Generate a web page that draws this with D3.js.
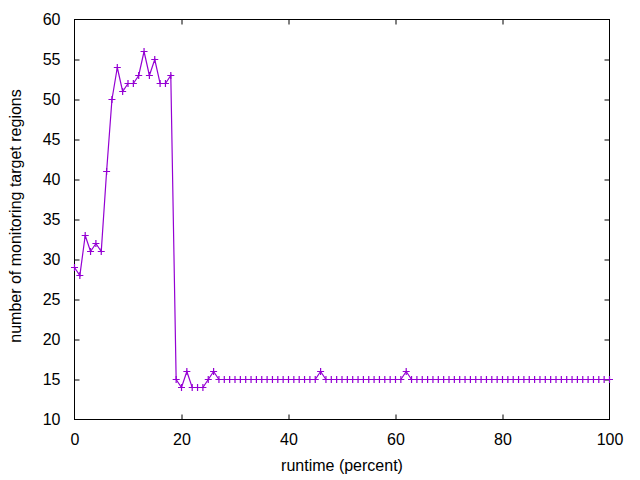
<!DOCTYPE html>
<html>
<head>
<meta charset="utf-8">
<script src="https://cdn.jsdelivr.net/npm/d3@7"></script>
<style>
  html, body { margin: 0; padding: 0; background: #fff; }
  svg { display: block; }
  text { font-family: "Liberation Sans", Arial, sans-serif; font-size: 16px; fill: #000; }
</style>
</head>
<body>
<svg id="chart" width="640" height="480"></svg>
<script>
// Data
const runtimePercent = d3.range(0, 101);
const regionValues = [
  29, 28, 33, 31, 32, 31, 41, 50, 54, 51,
  52, 52, 53, 56, 53, 55, 52, 52, 53, 15,
  14, 16, 14, 14, 14, 15, 16, 15, 15, 15,
  15, 15, 15, 15, 15, 15, 15, 15, 15, 15,
  15, 15, 15, 15, 15, 15, 16, 15, 15, 15,
  15, 15, 15, 15, 15, 15, 15, 15, 15, 15,
  15, 15, 16, 15, 15, 15, 15, 15, 15, 15,
  15, 15, 15, 15, 15, 15, 15, 15, 15, 15,
  15, 15, 15, 15, 15, 15, 15, 15, 15, 15,
  15, 15, 15, 15, 15, 15, 15, 15, 15, 15,
  15
];
const xTicks = [0, 20, 40, 60, 80, 100];
const yTicks = [10, 15, 20, 25, 30, 35, 40, 45, 50, 55, 60];
const xLabel = "runtime (percent)";
const yLabel = "number of monitoring target regions";

(function () {
const data = runtimePercent.map((x, i) => ({ x, y: regionValues[i] }));

const mLeft = 74.5, mRight = 609.5, mTop = 19.5, mBottom = 419.5;
const color = "#9400d3";

const svg = d3.select("#chart");
const x = d3.scaleLinear().domain([0, 100]).range([mLeft, mRight]);
const y = d3.scaleLinear().domain([10, 60]).range([mBottom, mTop]);

const tickLen = 5;

const gx = svg.append("g").attr("transform", `translate(0,${mBottom})`)
  .call(d3.axisBottom(x).tickValues(xTicks).tickSizeInner(-tickLen).tickSizeOuter(0).tickPadding(14));
const gxTop = svg.append("g").attr("transform", `translate(0,${mTop})`)
  .call(d3.axisTop(x).tickValues(xTicks).tickSizeInner(-tickLen).tickSizeOuter(0).tickFormat(""));
const gy = svg.append("g").attr("transform", `translate(${mLeft},0)`)
  .call(d3.axisLeft(y).tickValues(yTicks).tickSizeInner(-tickLen).tickSizeOuter(0).tickPadding(14));
const gyRight = svg.append("g").attr("transform", `translate(${mRight},0)`)
  .call(d3.axisRight(y).tickValues(yTicks).tickSizeInner(-tickLen).tickSizeOuter(0).tickFormat(""));

[gx, gxTop, gy, gyRight].forEach(g => {
  g.select(".domain").remove();
  g.selectAll(".tick line").attr("stroke", "#000").attr("stroke-width", 1);
  g.selectAll("text").attr("font-family", "Liberation Sans, Arial, sans-serif").attr("font-size", "16px").attr("fill", "#000");
});
gx.selectAll(".tick").filter(d => d === 0 || d === 100).select("line").remove();
gxTop.selectAll(".tick").filter(d => d === 0 || d === 100).select("line").remove();
gy.selectAll(".tick").filter(d => d === 10 || d === 60).select("line").remove();
gyRight.selectAll(".tick").filter(d => d === 10 || d === 60).select("line").remove();

svg.append("rect")
  .attr("x", mLeft).attr("y", mTop)
  .attr("width", mRight - mLeft).attr("height", mBottom - mTop)
  .attr("fill", "none").attr("stroke", "#000").attr("stroke-width", 1);

const line = d3.line().x(d => x(d.x)).y(d => y(d.y));
svg.append("path").datum(data)
  .attr("d", line).attr("fill", "none")
  .attr("stroke", color).attr("stroke-width", 1.2);

const ps = 3.5;
svg.append("g").selectAll("path.pt").data(data).join("path")
  .attr("class", "pt")
  .attr("d", d => {
    const cx = x(d.x), cy = y(d.y);
    return `M${cx - ps},${cy}H${cx + ps}M${cx},${cy - ps}V${cy + ps}`;
  })
  .attr("stroke", color).attr("stroke-width", 1.2).attr("fill", "none");

svg.append("text")
  .attr("x", (mLeft + mRight) / 2).attr("y", 471)
  .attr("text-anchor", "middle").text(xLabel);
svg.append("text")
  .attr("transform", `translate(21,216) rotate(-90)`)
  .attr("text-anchor", "middle").text(yLabel);
})();
</script>
</body>
</html>
